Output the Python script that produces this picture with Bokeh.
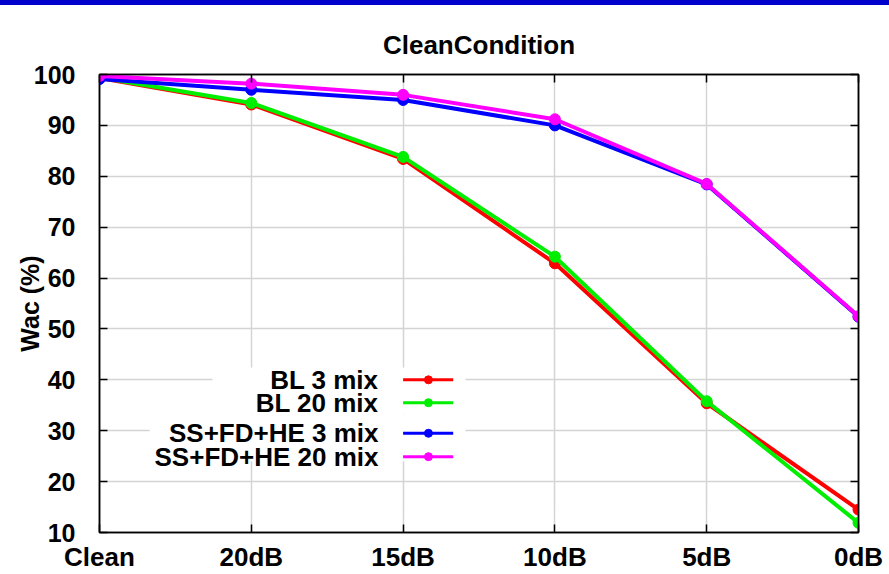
from bokeh.plotting import figure
from bokeh.models import FixedTicker, LinearAxis, Range1d, ColumnDataSource, Div
from bokeh.layouts import column
from bokeh.core.properties import value
from bokeh.embed import file_html
from bokeh.resources import INLINE

# Noise conditions along the x axis
conditions = ["Clean", "20dB", "15dB", "10dB", "5dB", "0dB"]

# Word accuracy (%) per system
bl_3mix = [99.3, 94.1, 83.4, 62.9, 35.4, 14.5]
bl_20mix = [99.4, 94.4, 83.8, 64.2, 35.8, 11.9]
ssfdhe_3mix = [99.1, 97.0, 95.0, 90.0, 78.4, 52.4]
ssfdhe_20mix = [99.7, 98.2, 96.0, 91.2, 78.5, 52.5]

series_names = ["BL 3 mix", "BL 20 mix", "SS+FD+HE 3 mix", "SS+FD+HE 20 mix"]
series_values = [bl_3mix, bl_20mix, ssfdhe_3mix, ssfdhe_20mix]
series_colors = ["#ff0000", "#00ee00", "#0000ff", "#ff00ff"]

y_ticks = [10, 20, 30, 40, 50, 60, 70, 80, 90, 100]

FONT = "Liberation Sans"

# thin blue band across the top of the page
bar = Div(text="", width=889, height=5, margin=0,
          styles={"background-color": "#0000cc", "width": "889px", "height": "5px"})

x_pos = list(range(len(conditions)))

p = figure(width=889, height=569, x_range=Range1d(0, len(conditions) - 1),
           y_range=Range1d(10, 100), output_backend="svg", toolbar_location=None,
           min_border_left=99, min_border_right=31, min_border_top=69,
           min_border_bottom=42, outline_line_color="black", outline_line_width=1.5)

p.title.text = "CleanCondition"
p.title.align = "center"
p.title.text_font = FONT
p.title.text_font_size = "26px"
p.title.text_font_style = "bold"
p.title.text_color = "black"
p.title.standoff = 30

x_labels = {i: c for i, c in enumerate(conditions)}

p.xaxis.ticker = FixedTicker(ticks=x_pos)
p.xaxis.major_label_overrides = x_labels
p.yaxis.ticker = FixedTicker(ticks=y_ticks)
p.yaxis.axis_label = "Wac (%)"

for ax in [p.xaxis[0], p.yaxis[0]]:
    ax.major_label_text_font = FONT
    ax.major_label_text_font_size = "25px"
    ax.major_label_text_font_style = "bold"
    ax.major_label_text_color = "black"
    ax.axis_line_color = "black"
    ax.axis_line_width = 1.5
    ax.major_tick_in = 8
    ax.major_tick_out = 0
    ax.major_tick_line_color = "black"
    ax.major_tick_line_width = 1.5
    ax.minor_tick_line_color = None

p.xaxis.major_label_text_font_size = "26px"
p.xaxis.major_label_standoff = 9
p.yaxis.major_label_standoff = 24
p.yaxis.axis_label_text_font = FONT
p.yaxis.axis_label_text_font_size = "25px"
p.yaxis.axis_label_text_font_style = "bold"
p.yaxis.axis_label_text_color = "black"
p.yaxis.axis_label_standoff = -13

# tick-only axes on the right and top (labels blanked out)
for ticks, side in [(y_ticks, "right"), (x_pos, "above")]:
    ax = LinearAxis(ticker=FixedTicker(ticks=ticks),
                    major_label_overrides={t: "" for t in ticks},
                    major_tick_in=8, major_tick_out=0, major_tick_line_color="black",
                    major_tick_line_width=1.5, minor_tick_line_color=None,
                    axis_line_color="black", axis_line_width=1.5, major_label_standoff=0)
    p.add_layout(ax, side)

p.xgrid.ticker = FixedTicker(ticks=x_pos)
p.ygrid.ticker = FixedTicker(ticks=y_ticks)
p.grid.grid_line_color = "#d4d4d4"
p.grid.grid_line_width = 1.5

# white backing behind the legend block
p.quad(left=[0.744, 0.330], right=[2.411, 2.411], top=[42.4, 33.2], bottom=[33.2, 24.0],
       fill_color="white", line_color=None)

for name, vals, color in zip(series_names, series_values, series_colors):
    src = ColumnDataSource(dict(x=x_pos, y=vals))
    p.line("x", "y", source=src, line_color=color, line_width=4)
    p.scatter("x", "y", source=src, size=11, fill_color=color, line_color=color)

# legend: right-aligned labels with a line+marker key to their right
legend_text_x = 1.838
key_x0, key_x1, key_mid = 2.0, 2.33, 2.167
legend_rows = [40.0, 35.5, 29.5, 24.9]
p.text(x=[legend_text_x] * 4, y=legend_rows, text=series_names,
       text_align="right", text_baseline="middle",
       text_font=value(FONT), text_font_size="26px", text_font_style="bold",
       text_color="black")
p.segment(x0=[key_x0] * 4, x1=[key_x1] * 4, y0=legend_rows, y1=legend_rows,
          line_color=series_colors, line_width=3)
p.scatter(x=[key_mid] * 4, y=legend_rows, size=8, fill_color=series_colors,
          line_color=series_colors)

layout = column(bar, p, spacing=0)
open("out.html", "w").write(file_html(layout, INLINE))
